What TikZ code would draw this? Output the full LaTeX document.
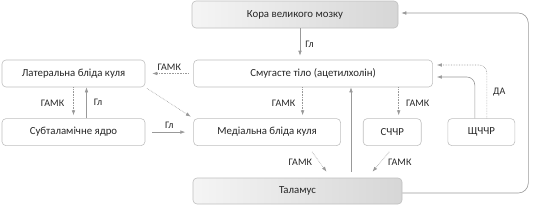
\documentclass[tikz,border=0pt]{standalone}
\usepackage{fontspec}
\setmainfont{Carlito}
\usetikzlibrary{arrows.meta,calc,positioning}

\begin{document}
\begin{tikzpicture}[x=1pt,y=1pt,font=\fontsize{10.8}{13}\selectfont,>={Latex[length=5pt,width=3.6pt]},text=black!85]
    \tikzset{
      box/.style={draw=gray!50, rounded corners=4pt, align=center, minimum height=27pt, inner sep=2pt, line width=0.6pt},
      shadebox/.style={box, left color=gray!8, right color=gray!32},
      arrow/.style={->, draw=gray!80, line width=0.6pt},
      dotarrow/.style={arrow, densely dotted},
      lbl/.style={font=\fontsize{10}{12}\selectfont, inner sep=2pt}
    }
    \useasboundingbox (0,0) rectangle (533,207);
    \node[shadebox, minimum width=206pt] (cortex) at (295,192.5) {Кора великого мозку};
    \node[box, minimum width=143pt] (gpe) at (73.5,133.5) {Латеральна бліда куля};
    \node[box, minimum width=239pt, right=48pt of gpe] (striatum) {Смугасте тіло (ацетилхолін)};
    \node[box, minimum width=143pt, below=31pt of gpe] (stn) {Субталамічне ядро};
    \node[box, minimum width=147pt, right=48pt of stn] (gpi) {Медіальна бліда куля};
    \node[box, minimum width=58pt, right=22pt of gpi] (snr) {СЧЧР};
    \node[box, minimum width=67pt, right=26pt of snr] (snc) {ЩЧЧР};
    \node[shadebox, minimum width=209pt, minimum height=26pt] (thalamus) at (297.5,16) {Таламус};
    \draw[arrow, shorten >=4pt] ([xshift=5pt]cortex.south) -- ([xshift=5pt]cortex.south |- striatum.north)
      node[lbl, midway, right=3pt]{Гл};
    \draw[dotarrow, shorten <=5pt, shorten >=7pt] (striatum.west) -- node[lbl, above=1pt]{ГАМК} (gpe.east);
    \draw[dotarrow, shorten >=3pt] (gpe.south) -- node[lbl, left=7pt]{ГАМК} (stn.north);
    \draw[arrow] ([xshift=13pt]stn.north) -- node[lbl, right=5pt]{Гл} ([xshift=13pt]gpe.south);
    \draw[dotarrow, shorten <=2pt, shorten >=3pt] (gpe.south east) -- (gpi.north west);
    \draw[arrow, shorten <=7pt, shorten >=8pt] (stn.east) -- node[lbl, above=1pt]{Гл} (gpi.west);
    \draw[dotarrow, shorten >=3pt] ([xshift=-10.5pt]striatum.south) -- node[lbl, left=5pt]{ГАМК}
      ([xshift=-10.5pt]striatum.south |- gpi.north);
    \draw[dotarrow, shorten >=3pt] ([xshift=6.5pt]snr.north |- striatum.south) -- node[lbl, right=5pt]{ГАМК}
      ([xshift=6.5pt]snr.north);
    \draw[arrow, shorten <=6pt] ([xshift=53.5pt]thalamus.north) -- ([xshift=53.5pt]thalamus.north |- striatum.south);
    \draw[dotarrow] ([xshift=45pt,yshift=-6pt]gpi.south) -- node[lbl, left=5pt]{ГАМК}
      ([xshift=29pt,yshift=6pt]thalamus.north);
    \draw[dotarrow] ([xshift=-3pt,yshift=-6pt]snr.south) -- node[lbl, right=5pt]{ГАМК}
      ([xshift=75pt,yshift=6pt]thalamus.north);
    \draw[arrow, rounded corners=8pt, shorten >=4pt] ([xshift=-6.5pt]snc.north) |- ([yshift=-3.5pt]striatum.east);
    \draw[dotarrow, rounded corners=8pt, shorten >=4pt] ([xshift=5.5pt]snc.north) |-
      node[lbl, pos=0.25, right=4pt]{ДА} ([yshift=8.5pt]striatum.east);
    \draw[arrow, rounded corners=10pt, shorten >=3pt] ([yshift=-2pt]thalamus.east) -- ++(126pt,0)
      |- ([yshift=1.5pt]cortex.east);
  \end{tikzpicture}
\end{document}
